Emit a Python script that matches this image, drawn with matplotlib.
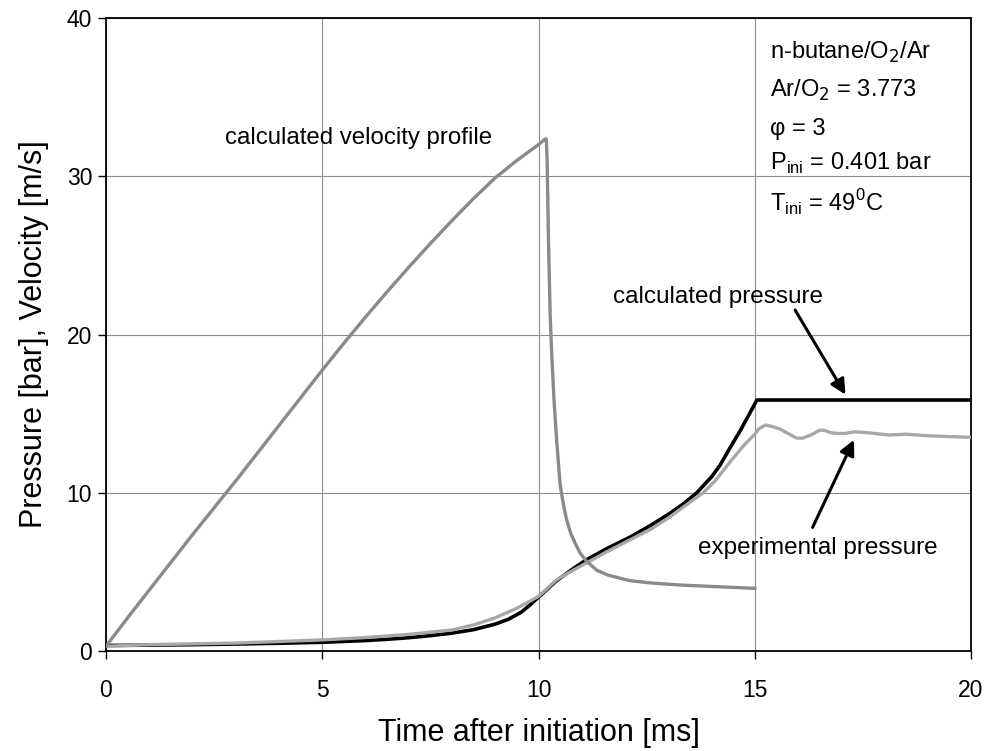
import matplotlib
matplotlib.use("Agg")
import matplotlib.pyplot as plt

plt.rcParams['font.family'] = ['Liberation Sans', 'DejaVu Sans']

# calculated velocity profile
vel_t = [0, 0.5, 1, 1.5, 2, 2.5, 3, 3.5, 4, 4.5, 5, 5.5, 6, 6.5, 7, 7.5, 8, 8.5,
         9, 9.5, 10, 10.15, 10.18, 10.2, 10.23, 10.27, 10.31, 10.36, 10.42, 10.5,
         10.58, 10.65, 10.75, 10.85, 10.96, 11.1, 11.35, 11.6, 12.1, 12.6, 13.27,
         14.0, 14.5, 15.0]
vel_v = [0.3, 2.1, 3.85, 5.6, 7.35, 9.05, 10.75, 12.5, 14.25, 16.0, 17.75, 19.45,
         21.1, 22.7, 24.25, 25.75, 27.2, 28.6, 29.9, 31.0, 32.0, 32.35, 32.35,
         31.0, 26.0, 21.2, 18.5, 15.8, 13.3, 10.5, 9.2, 8.3, 7.4, 6.8, 6.2, 5.7,
         5.1, 4.8, 4.45, 4.3, 4.17, 4.08, 4.02, 3.96]

# calculated pressure
cp_t = [0, 1, 2, 3, 4, 5, 6, 6.5, 7, 7.5, 8, 8.5, 9, 9.3, 9.6, 9.8, 10.0, 10.4,
        10.8, 11.1, 11.6, 12.12, 12.6, 13.04, 13.35, 13.66, 14.0, 14.2, 14.43,
        14.66, 14.85, 15.05, 20]
cp_p = [0.35, 0.37, 0.4, 0.44, 0.49, 0.55, 0.66, 0.74, 0.84, 0.97, 1.13, 1.35,
        1.7, 2.0, 2.45, 2.9, 3.4, 4.4, 5.2, 5.75, 6.5, 7.2, 7.95, 8.7, 9.3, 10.0,
        11.0, 11.75, 12.85, 13.9, 14.85, 15.86, 15.86]

# experimental pressure
ep_t = [0, 1, 2, 3, 4, 5, 6, 7, 8, 8.5, 9, 9.5, 10.0, 10.42, 10.7, 11.1, 11.6,
        12.1, 12.6, 13.0, 13.4, 13.81, 14.1, 14.43, 14.75, 15.0, 15.1, 15.25,
        15.45, 15.6, 15.8, 15.97, 16.1, 16.3, 16.5, 16.6, 16.75, 16.9, 17.1,
        17.3, 17.6, 18.1, 18.5, 19.0, 19.5, 20]
ep_p = [0.3, 0.4, 0.45, 0.5, 0.6, 0.7, 0.85, 1.05, 1.33, 1.65, 2.1, 2.7, 3.45,
        4.5, 4.95, 5.55, 6.3, 7.0, 7.7, 8.4, 9.2, 10.0, 10.8, 11.95, 13.0, 13.7,
        14.05, 14.28, 14.15, 14.0, 13.7, 13.45, 13.45, 13.65, 13.95, 13.95,
        13.8, 13.75, 13.75, 13.85, 13.8, 13.65, 13.7, 13.6, 13.55, 13.5]

x_ticks = [0, 5, 10, 15, 20]
y_ticks = [0, 10, 20, 30, 40]

fig = plt.figure(figsize=(9.92, 7.51), dpi=100)
ax = fig.add_axes([106/992, 1-651/751, (971-106)/992, (651-18)/751])

ax.plot(cp_t, cp_p, color='black', lw=2.6, zorder=3, solid_joinstyle='round')
ax.plot(ep_t, ep_p, color='#a8a8a8', lw=2.4, zorder=4, solid_joinstyle='round')
ax.plot(vel_t, vel_v, color='#8a8a8a', lw=2.4, zorder=5, solid_joinstyle='round')

ax.set_xlim(0, 20)
ax.set_ylim(0, 40)
ax.set_xticks(x_ticks)
ax.set_yticks(y_ticks)
ax.grid(True, color='#8c8c8c', lw=0.8)
ax.set_axisbelow(True)
for s in ax.spines.values():
    s.set_linewidth(1.3)
ax.tick_params(direction='out', length=6, width=1.0, labelsize=16.5)
ax.tick_params(axis='x', pad=14)
ax.tick_params(axis='y', pad=4)

ax.set_xlabel('Time after initiation [ms]', fontsize=22, labelpad=12)
ax.set_ylabel('Pressure [bar], Velocity [m/s]', fontsize=22, labelpad=13)

ax.text(5.83, 32.4, 'calculated velocity profile', fontsize=17.3, ha='center', va='center')
ax.text(14.15, 22.4, 'calculated pressure', fontsize=17.5, ha='center', va='center')
ax.text(16.46, 6.5, 'experimental pressure', fontsize=17.5, ha='center', va='center')

ann = ['n-butane/O$_2$/Ar', 'Ar/O$_2$ = 3.773', 'φ = 3',
       'P$_{\\mathregular{ini}}$ = 0.401 bar', 'T$_{\\mathregular{ini}}$ = 49$^{\\mathregular{0}}$C']
ann_y = [37.8, 35.4, 33.0, 30.8, 28.3]
for s, yy in zip(ann, ann_y):
    ax.text(15.35, yy, s, fontsize=17, ha='left', va='center')

arrow = dict(arrowstyle='-|>,head_length=0.9,head_width=0.45', color='black', lw=2.2)
ax.annotate('', xy=(17.13, 16.05), xytext=(15.9, 21.7), arrowprops=arrow)
ax.annotate('', xy=(17.32, 13.5), xytext=(16.31, 7.65), arrowprops=arrow)

fig.savefig('out.png', dpi=100)
